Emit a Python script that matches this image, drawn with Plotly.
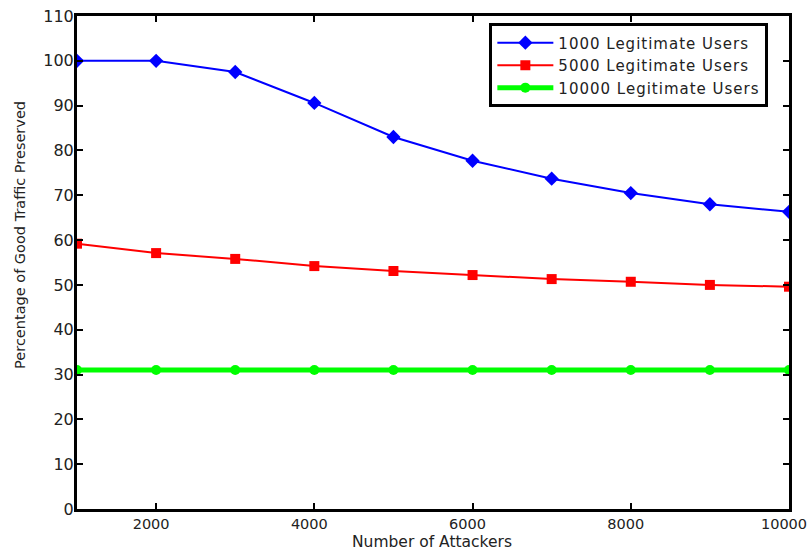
import plotly.graph_objects as go

attackers = [1000, 2000, 3000, 4000, 5000, 6000, 7000, 8000, 9000, 10000]
users_1000 = [100, 100, 97.5, 90.6, 83.0, 77.7, 73.7, 70.5, 68.0, 66.3]
users_5000 = [59.2, 57.1, 55.8, 54.2, 53.1, 52.2, 51.3, 50.7, 50.0, 49.6]
users_10000 = [31.0, 31.0, 31.0, 31.0, 31.0, 31.0, 31.0, 31.0, 31.0, 31.0]
names = ["1000 Legitimate Users", "5000 Legitimate Users", "10000 Legitimate Users"]
x_ticks = [2000, 4000, 6000, 8000, 10000]
x_ticktext = ["2000", "4000", "6000", "8000", "10000"]
y_ticks = list(range(0, 111, 10))
x_title = "Number of Attackers"
y_title = "Percentage of Good Traffic Preserved"

FONT = "DejaVu Sans"


def spaced(s):
    return "<span style='letter-spacing:1px'>" + s + "</span>"


fig = go.Figure()
fig.add_trace(go.Scatter(x=attackers, y=users_1000, name=spaced(names[0]), mode="lines+markers",
                         line=dict(color="#0000ff", width=2),
                         marker=dict(symbol="diamond", size=11, color="#0000ff")))
fig.add_trace(go.Scatter(x=attackers, y=users_5000, name=spaced(names[1]), mode="lines+markers",
                         line=dict(color="#ff0000", width=2),
                         marker=dict(symbol="square", size=10, color="#ff0000")))
fig.add_trace(go.Scatter(x=attackers, y=users_10000, name=spaced(names[2]), mode="lines+markers",
                         line=dict(color="#00ff00", width=5),
                         marker=dict(symbol="circle", size=10, color="#00ff00")))

axis_common = dict(showline=True, linewidth=3, linecolor="black", mirror="ticks",
                   ticks="inside", ticklen=6, tickwidth=2, tickcolor="black",
                   showgrid=False, zeroline=False, automargin=False)

fig.update_layout(
    width=811, height=553,
    margin=dict(l=77, r=22, t=16, b=44),
    plot_bgcolor="white", paper_bgcolor="white",
    font=dict(family=FONT, color="#222"),
    xaxis=dict(range=[1000, 10000], tickvals=x_ticks, ticktext=x_ticktext,
               ticklabelshift=-5, ticklabelstandoff=0, ticklabeloverflow="allow",
               tickfont=dict(family=FONT, size=14.5, color="#222"),
               **axis_common),
    yaxis=dict(range=[0, 110], tickvals=y_ticks, ticklabelstandoff=-3,
               tickfont=dict(family=FONT, size=16, color="#222"),
               **axis_common),
    legend=dict(x=0.971, y=0.985, xanchor="right", yanchor="top",
                bgcolor="white", bordercolor="black", borderwidth=3,
                font=dict(size=15), tracegroupgap=0, itemwidth=56),
    annotations=[
        dict(text=x_title, xref="paper", yref="paper", x=0.499, y=0, yanchor="bottom",
             yshift=-44, showarrow=False, font=dict(size=15.5, color="#222")),
        dict(text=y_title, xref="paper", yref="paper", x=0, xanchor="right",
             xshift=-47, y=0.556, textangle=-90, showarrow=False,
             font=dict(size=14.5, color="#222")),
    ],
    showlegend=True,
)
fig.write_html("out.html")
